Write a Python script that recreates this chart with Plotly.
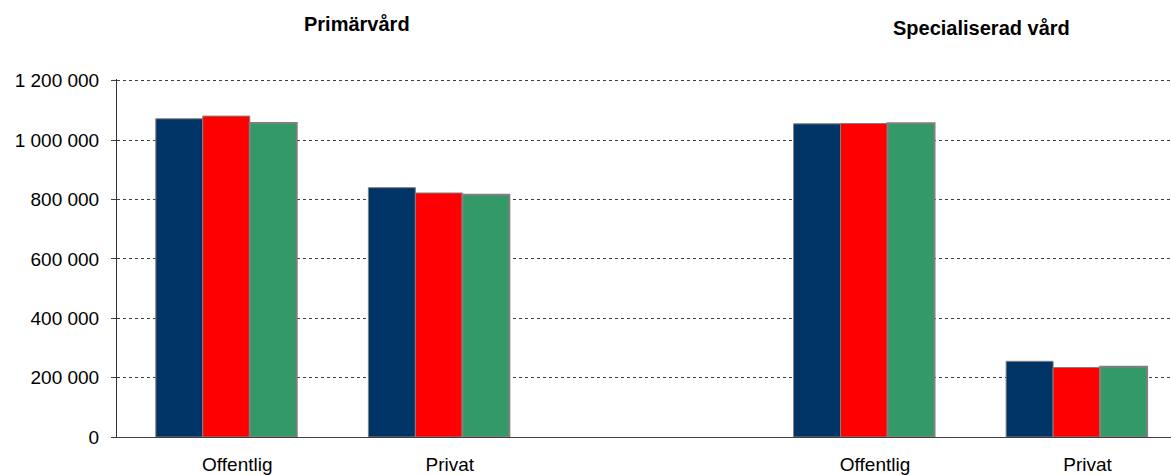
import plotly.graph_objects as go

# Category keys (unique) and displayed labels; middle slot is an empty spacer
categories = ["Primär Offentlig", "Primär Privat", "spacer", "Spec Offentlig", "Spec Privat"]
category_labels = ["Offentlig", "Privat", "", "Offentlig", "Privat"]

series_names = ["Serie 1", "Serie 2", "Serie 3"]
serie1 = [1072000, 840000, None, 1055000, 255000]
serie2 = [1081000, 822000, None, 1056000, 234000]
serie3 = [1058000, 816000, None, 1057000, 237000]

section_titles = ["Primärvård", "Specialiserad vård"]

y_ticks = [0, 200000, 400000, 600000, 800000, 1000000, 1200000]
y_tick_labels = ["0", "200 000", "400 000", "600 000", "800 000", "1 000 000", "1 200 000"]

colors = ["#003366", "#FF0000", "#339966"]
line_widths = [1, 1, 2]

FONT = "Liberation Sans, Arial, sans-serif"

fig = go.Figure()
for name, vals, col, lw in zip(series_names, [serie1, serie2, serie3], colors, line_widths):
    fig.add_trace(go.Bar(
        x=categories, y=vals, name=name,
        marker=dict(color=col, line=dict(color="#808080", width=lw)),
        showlegend=False, hoverinfo="skip",
    ))

T, B = 79, 38
fig.update_layout(
    width=1171, height=475,
    margin=dict(l=117, r=0, t=T, b=B, autoexpand=False),
    paper_bgcolor="white", plot_bgcolor="white",
    barmode="group", bargap=0.337, bargroupgap=0,
    font=dict(family=FONT, size=19, color="#000000"),
    xaxis=dict(
        type="category", categoryorder="array", categoryarray=categories,
        tickvals=categories, ticktext=category_labels,
        range=[-0.514, 4.444],
        showline=True, linecolor="#404040", linewidth=1,
        showgrid=False, ticks="", ticklabelstandoff=10, ticklabelshift=11,
        tickfont=dict(family=FONT, size=19, color="#000000"),
        automargin=False, zeroline=False,
    ),
    yaxis=dict(
        range=[0, 1206000], tickvals=y_ticks, ticktext=y_tick_labels,
        showline=True, linecolor="#303030", linewidth=1,
        showgrid=True, gridcolor="#404040", gridwidth=1, griddash="dot",
        ticks="outside", ticklen=5, tickcolor="#404040",
        ticklabelstandoff=8,
        tickfont=dict(family=FONT, size=19, color="#000000"),
        automargin=False, zeroline=False,
    ),
)

plot_h = 475 - T - B
title_x = [357, 981]
title_y = [24, 28]
for t, tx, ty in zip(section_titles, title_x, title_y):
    fig.add_annotation(
        text="<b>" + t + "</b>", xref="paper", yref="paper",
        x=(tx - 117) / 1054, y=(475 - B - ty) / plot_h,
        xanchor="center", yanchor="middle", showarrow=False,
        font=dict(family=FONT, size=20, color="#000000"),
    )

fig.write_html(
    "out.html",
    config={"displayModeBar": False, "staticPlot": True},
    post_script="document.body.style.margin='0';document.body.style.overflow='hidden';",
)
